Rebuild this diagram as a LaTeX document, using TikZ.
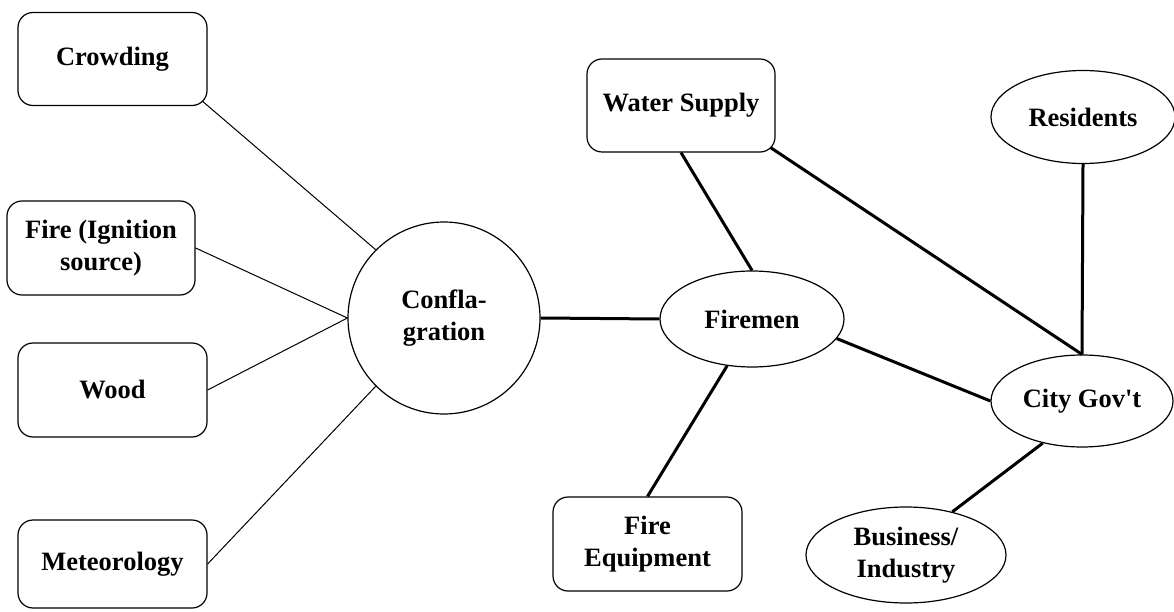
\documentclass[tikz,border=0pt]{standalone}
\usepackage{fontspec}
\setmainfont{Liberation Serif}[Ligatures=TeXOff]
\usetikzlibrary{shapes.geometric}
\begin{document}
\begin{tikzpicture}[x=1pt,y=-1pt,
  lbl/.style={font=\bfseries\fontsize{26.5}{32}\selectfont, align=center,
              inner sep=0pt, draw, line width=1.2pt},
  box/.style={lbl, rectangle, rounded corners=15pt, minimum width=189pt, minimum height=93pt},
  oval/.style={lbl, ellipse},
  weaklink/.style={line width=1pt},
  stronglink/.style={line width=3pt}]
\useasboundingbox (0,0) rectangle (1174,612);

% causes of the fire
\node[box] (cr) at (112.5,59) {Crowding};
\node[box, minimum width=188pt, minimum height=94pt] (fi) at (101,248) {Fire (Ignition\\source)};
\node[box, minimum height=94pt] (wd) at (112.5,390) {Wood};
\node[box, minimum height=88pt] (mt) at (112.5,564) {Meteorology};

% the event
\node[lbl, circle, minimum size=192pt] (cf) at (444,318) {Confla-\\gration};

% responders and stakeholders
\node[box, minimum width=188pt] (ws) at (681,105.5) {Water Supply};
\node[oval, minimum width=184pt, minimum height=96pt] (fm) at (752,319) {Firemen};
\node[box, minimum height=94pt] (fe) at (647.5,544) {Fire\\Equipment};
\node[oval, minimum width=184pt, minimum height=93pt] (rs) at (1083,117) {Residents};
\node[oval, minimum width=182pt, minimum height=92pt] (cg) at (1082,401) {City Gov't};
\node[oval, minimum width=200pt, minimum height=96pt] (bi) at (906,555) {Business/\\Industry};

% thin links into the conflagration
\draw[weaklink] ([xshift=-5pt]cr.-24) -- (cf.135);
\draw[weaklink] (fi.east) -- (cf.west);
\draw[weaklink] (wd.east) -- (cf.west);
\draw[weaklink] (mt.east) -- (cf.-135);

% heavy links on the response side
\draw[stronglink] (cf.east) -- (fm.west);
\draw[stronglink] (ws.south) -- (fm.north);
\draw[stronglink] ([xshift=-5pt]ws.-24) -- (cg.north);
\draw[stronglink] (rs.south) -- (cg.north);
\draw[stronglink] (fm.-13) -- (cg.west);
\draw[stronglink] (fe.north) -- (fm.-118);
\draw[stronglink] (bi.43) -- (cg.-133);
\end{tikzpicture}
\end{document}
